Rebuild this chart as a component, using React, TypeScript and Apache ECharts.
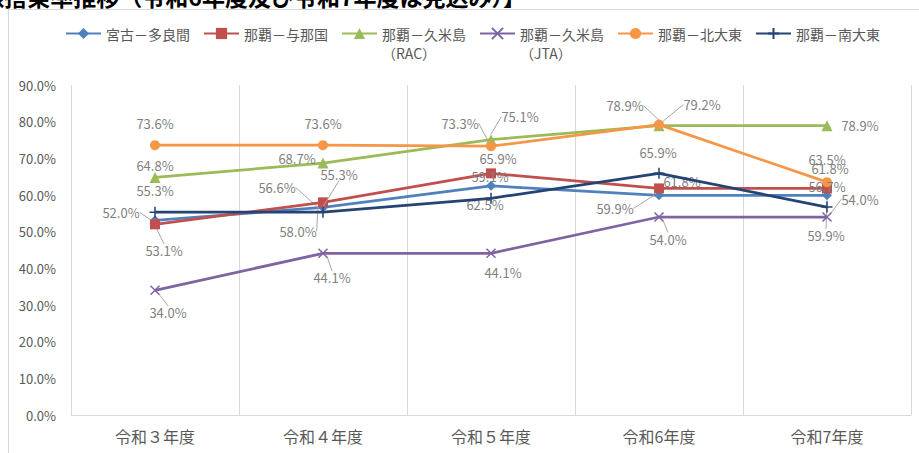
import React, { useEffect, useRef } from 'react';
import * as echarts from 'echarts';

const CATEGORIES = ['令和３年度', '令和４年度', '令和５年度', '令和6年度', '令和7年度'];

const SERIES_NAMES = [
  '宮古－多良間',
  '那覇－与那国',
  '那覇－久米島（RAC）',
  '那覇－久米島（JTA）',
  '那覇－北大東',
  '那覇－南大東',
];

const MIYAKO_TARAMA = [53.1, 56.6, 62.5, 59.9, 59.9];
const NAHA_YONAGUNI = [52.0, 58.0, 65.9, 61.8, 61.8];
const NAHA_KUME_RAC = [64.8, 68.7, 75.1, 78.9, 78.9];
const NAHA_KUME_JTA = [34.0, 44.1, 44.1, 54.0, 54.0];
const NAHA_KITADAITO = [73.6, 73.6, 73.3, 79.2, 63.5];
const NAHA_MINAMIDAITO = [55.3, 55.3, 59.1, 65.9, 56.7];

const Y_MIN = 0;
const Y_MAX = 90;
const Y_INTERVAL = 10;

const TITLE = '【航空路線搭乗率推移（令和6年度及び令和7年度は見込み）】';

// label offsets (dx, dy in px from the point) and leader-line flags
const LABEL_OFFSETS = [
  [[9, 30], [-46, -20], [-6, 19], [-44, 13], [-1, 40]],
  [[-34, -12], [-25, 29], [7, -15], [23, -7], [3, -20]],
  [[0, -12], [-26, -5], [29, -23], [-34, -20], [33, 0]],
  [[13, 22], [9, 24], [12, 19], [9, 22], [33, -18]],
  [[0, -22], [0, -22], [-31, -23], [43, -20], [0, -23]],
  [[0, -22], [16, -38], [-1, -22], [-1, -21], [0, -21]],
];
const LEADERS = [
  [1, 1, 0, 1, 1],
  [1, 1, 0, 0, 0],
  [0, 0, 1, 1, 0],
  [1, 1, 0, 1, 1],
  [0, 0, 1, 1, 0],
  [0, 1, 0, 0, 0],
];

export default function App() {
  const ref = useRef<HTMLDivElement>(null);
  useEffect(() => {
    const chart = echarts.init(ref.current!, null, { renderer: 'svg' });
    const FONT = '"Noto Sans CJK JP", "Noto Sans", sans-serif';
    const defs = [
      { data: MIYAKO_TARAMA, color: '#4F81BD', symbol: 'diamond', size: 10, stroke: false },
      { data: NAHA_YONAGUNI, color: '#C0504D', symbol: 'rect', size: 10, stroke: false },
      { data: NAHA_KUME_RAC, color: '#9BBB59', symbol: 'triangle', size: 11, stroke: false },
      { data: NAHA_KUME_JTA, color: '#8064A2', symbol: 'path://M0,0L10,10M10,0L0,10', size: 9, stroke: true },
      { data: NAHA_KITADAITO, color: '#F79646', symbol: 'circle', size: 10, stroke: false },
      { data: NAHA_MINAMIDAITO, color: '#254373', symbol: 'path://M5,0L5,10M0,5L10,5', size: 11, stroke: true },
    ];
    const series = defs.map((d, si) => ({
      type: 'line',
      name: SERIES_NAMES[si],
      data: d.data.map((v, i) => ({ value: v, labelLine: { show: !!LEADERS[si][i] } })),
      symbol: d.symbol,
      symbolSize: d.size,
      showSymbol: true,
      lineStyle: { color: d.color, width: 2.75 },
      itemStyle: { color: d.color, borderColor: d.color, borderWidth: d.stroke ? 1.5 : 0 },
      label: {
        show: true,
        formatter: (p: any) => Number(p.value).toFixed(1) + '%',
        color: '#7F7F7F',
        fontSize: 13,
        fontFamily: FONT,
      },
      labelLine: { show: false, lineStyle: { color: '#A6A6A6', width: 1 } },
      labelLayout: (params: any) => {
        const off = LABEL_OFFSETS[si][params.dataIndex];
        const r = params.rect;
        return {
          x: r.x + r.width / 2 + off[0],
          y: r.y + r.height / 2 + off[1],
          align: 'center',
          verticalAlign: 'middle',
        };
      },
      emphasis: { disabled: true },
      z: 2 + si,
    }));

    chart.setOption({
      animation: false,
      textStyle: { fontFamily: FONT },
      graphic: [
        {
          type: 'rect',
          silent: true,
          z: 0,
          shape: { x: 8.5, y: 9.5, width: 1000, height: 1000 },
          style: { fill: 'none', stroke: '#D9D9D9', lineWidth: 1 },
        },
        {
          type: 'text',
          silent: true,
          x: 526,
          y: -4,
          style: {
            text: TITLE,
            align: 'right',
            verticalAlign: 'middle',
            font: 'bold 23px "Noto Sans CJK JP"',
            fill: '#000000',
          },
        },
      ],
      legend: {
        left: 60,
        top: 0,
        padding: 5,
        itemGap: 13,
        itemWidth: 35,
        itemHeight: 14,
        formatter: (name: string) => (name.indexOf('（') >= 0 ? '\n' + name.replace('（', '\n（') : name),
        textStyle: { color: '#595959', fontSize: 14, lineHeight: 19, fontFamily: FONT },
        data: SERIES_NAMES,
      },
      grid: { left: 71, right: 8, top: 85, bottom: 38, containLabel: false },
      xAxis: {
        type: 'category',
        data: CATEGORIES,
        boundaryGap: true,
        axisLine: { lineStyle: { color: '#D9D9D9', width: 1 } },
        axisTick: { show: false },
        axisLabel: { color: '#595959', fontSize: 16, margin: 13, fontFamily: FONT },
        splitLine: { show: true, lineStyle: { color: '#D9D9D9', width: 1 } },
      },
      yAxis: {
        type: 'value',
        min: Y_MIN,
        max: Y_MAX,
        interval: Y_INTERVAL,
        axisLine: { show: false },
        axisTick: { show: false },
        splitLine: { show: false },
        axisLabel: {
          formatter: (v: number) => v.toFixed(1) + '%',
          color: '#595959',
          fontSize: 13,
          margin: 15,
          fontFamily: FONT,
        },
      },
      series,
    });
    return () => chart.dispose();
  }, []);
  return (
    <div
      ref={ref}
      style={{ position: 'fixed', left: 0, top: 0, width: 919, height: 453, background: '#fff' }}
    />
  );
}
